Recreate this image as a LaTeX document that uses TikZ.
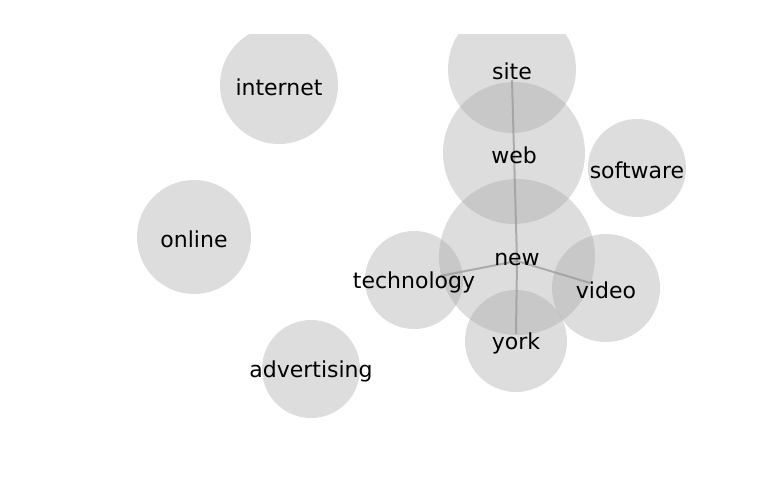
\documentclass[tikz,border=0pt]{standalone}
\usepackage{fontspec}
\setmainfont{DejaVu Sans}
\definecolor{bub}{RGB}{166,166,166}
\definecolor{edg}{RGB}{150,150,150}
\tikzset{
  bubble/.style={fill=bub, fill opacity=0.38, draw=none},
  lbl/.style={font=\fontsize{22}{26}\selectfont, text=black, inner sep=0pt, yshift=-2pt},
  edge/.style={draw=edg, line width=2pt, opacity=0.7},
}
\begin{document}
\begin{tikzpicture}[x=1pt,y=-1pt]
\useasboundingbox (0,0) rectangle (768,500);
\begin{scope}
\clip (0,35) rectangle (768,500);
\fill[bubble] (512,69) circle (64);
\fill[bubble] (514,153) circle (71);
\fill[bubble] (517,257) circle (78);
\fill[bubble] (637,168) circle (49);
\fill[bubble] (414,280) circle (49);
\fill[bubble] (606,288) circle (54);
\fill[bubble] (516,341) circle (51);
\fill[bubble] (279,85) circle (59);
\fill[bubble] (194,237) circle (57);
\fill[bubble] (311,369) circle (49);
\end{scope}
\coordinate (csite) at (512,80);
\coordinate (cnew) at (517,261);
\coordinate (ctech) at (440,276);
\coordinate (cvideo) at (590,283);
\coordinate (cyork) at (516,334);
\draw[edge] (cnew) -- (csite);
\draw[edge] (cnew) -- (ctech);
\draw[edge] (cnew) -- (cvideo);
\draw[edge] (cnew) -- (cyork);
\node[lbl] (site) at (512,69) {site};
\node[lbl] (web) at (514,153) {web};
\node[lbl] (new) at (517,257) {new};
\node[lbl] (software) at (637,168) {software};
\node[lbl] (technology) at (414,280) {technology};
\node[lbl] (video) at (606,288) {video};
\node[lbl] (york) at (516,341) {york};
\node[lbl] (internet) at (279,85) {internet};
\node[lbl] (online) at (194,237) {online};
\node[lbl] (advertising) at (311,369) {advertising};
\end{tikzpicture}
\end{document}
